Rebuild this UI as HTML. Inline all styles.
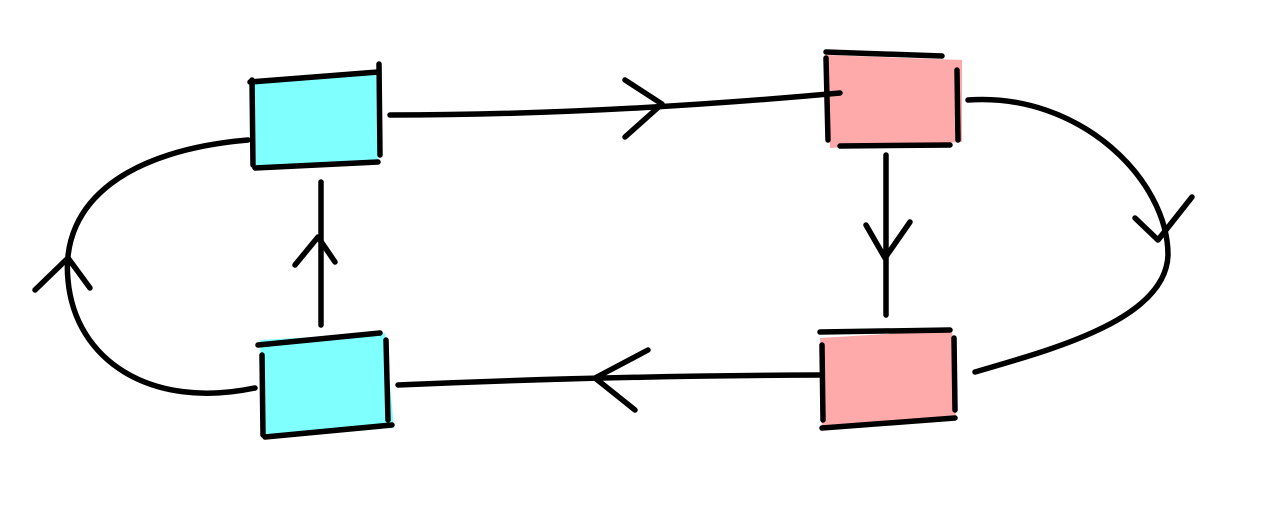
<!DOCTYPE html>
<html><head><meta charset="utf-8"><style>
html,body{margin:0;padding:0;background:#fff;}
svg{display:block;}
</style></head><body>
<svg width="1280" height="518" viewBox="0 0 1280 518" xmlns="http://www.w3.org/2000/svg">
<g fill="none" stroke="#000" stroke-width="5.5" stroke-linecap="round" stroke-linejoin="round">
<path d="M254,80 L376,72 L378,160 L256,166 Z" fill="#80ffff" stroke="none"/>
<path d="M260,340 L385,333 L394,428 L262,436 Z" fill="#80ffff" stroke="none"/>
<path d="M826,55 L962,60 L962,142 L830,148 Z" fill="#ffaaaa" stroke="none"/>
<path d="M820,338 L952,330 L956,418 L822,428 Z" fill="#ffaaaa" stroke="none"/>
<path d="M250,82 L378,72"/><path d="M252,80 L253,165"/><path d="M379,64 L380,155"/><path d="M255,168 L378,162"/>
<path d="M258,345 L380,333"/><path d="M262,355 L263,435"/><path d="M386,340 L388,420"/><path d="M265,437 L392,425"/>
<path d="M826,52 L942,56"/><path d="M826,58 L828,140"/><path d="M957,70 L958,140"/><path d="M840,146 L950,145"/>
<path d="M820,332 L950,330"/><path d="M822,345 L823,420"/><path d="M954,338 L955,410"/><path d="M822,428 L955,418"/>
<path d="M390,115 Q600,115 840,93"/>
<path d="M625,80 L662,104 L625,137"/>
<path d="M968,100 C1080,92 1168,180 1168,255 C1166,320 1050,350 975,372"/>
<path d="M1135,218 L1158,240 L1192,197"/>
<path d="M886,155 L886,315"/>
<path d="M866,225 L885,258 L910,222"/>
<path d="M820,375 Q600,376 398,385"/>
<path d="M648,350 L595,378 L635,410"/>
<path d="M248,140 C130,150 60,200 68,280 C75,360 150,410 255,388"/>
<path d="M35,290 L68,258 L90,288"/>
<path d="M321,325 L321,182"/>
<path d="M295,265 L318,237 L335,262"/>
</g>
</svg>
</body></html>
